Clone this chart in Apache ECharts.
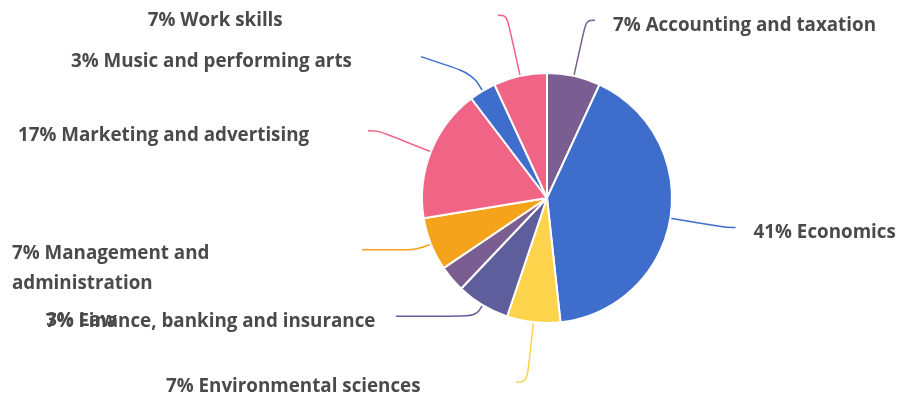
<!DOCTYPE html>
<html>
<head>
<meta charset="utf-8">
<script src="https://cdn.jsdelivr.net/npm/echarts@6/dist/echarts.min.js"></script>
<style>
  html, body { margin: 0; padding: 0; background: #ffffff; }
  #chart { width: 900px; height: 399px; }
</style>
</head>
<body>
<div id="chart"></div>
<script>
// Subject areas, in the order the slices run clockwise from twelve o'clock
const categories = [
  'Accounting and taxation',
  'Economics',
  'Environmental sciences',
  'Finance, banking and insurance',
  'Law',
  'Management and administration',
  'Marketing and advertising',
  'Music and performing arts',
  'Work skills'
];
// Number of courses in each subject area
const counts = [2, 12, 2, 2, 1, 2, 5, 1, 2];

// Slice colours
const sliceColors = ['#7b5e91', '#3e6dcc', '#fcd34b', '#5f5e9c', '#7b5e91', '#f4a31b', '#f06586', '#3e6dcc', '#f06586'];
// Leader line lengths per slice: radial part, then horizontal part
const leaderLength = [57, 58, 60, 13, 57, 15, 57, 40, 62];
const leaderLength2 = [9, 8, 11, 80, 12, 55, 10, 41, 9];
// Leader lines that are left out
const leaderHidden = ['Law'];
// Leaders whose elbow sits halfway along the radial part
const bentLeaders = ['Music and performing arts'];
// Labels that wrap onto two lines get extra top padding so the first line sits on the leader
const twoLineLabels = ['Management and administration'];

const chart = echarts.init(document.getElementById('chart'), null, { renderer: 'canvas' });

const seriesData = categories.map((name, i) => ({
  name: name,
  value: counts[i],
  itemStyle: { color: sliceColors[i] },
  label: { padding: twoLineLabels.includes(name) ? [38, 0, 0, 0] : [10, 0, 0, 0] },
  labelLine: {
    show: true,
    length: leaderLength[i],
    length2: leaderLength2[i],
    lineStyle: { opacity: leaderHidden.includes(name) ? 0 : 1 }
  }
}));

chart.setOption({
  animation: false,
  series: [{
    type: 'pie',
    center: [547, 198],
    radius: 125,
    startAngle: 90,
    clockwise: true,
    avoidLabelOverlap: false,
    data: seriesData,
    itemStyle: { borderColor: '#ffffff', borderWidth: 2 },
    emphasis: { disabled: true },
    label: {
      show: true,
      position: 'outer',
      width: 332,
      overflow: 'break',
      distanceToLabelLine: 18,
      formatter: p => '{t|' + Math.round(p.percent) + '% ' + p.name + '}',
      rich: {
        t: {
          align: 'left',
          fontFamily: '"Open Sans", "Noto Sans", sans-serif',
          fontWeight: 'bold',
          fontSize: 18.8,
          lineHeight: 30,
          color: '#4a4a4a'
        }
      }
    },
    labelLine: {
      show: true,
      smooth: 0.4,
      lineStyle: { width: 1.5 }
    },
    labelLayout: function (p) {
      const out = { hideOverlap: false };
      const pts = p.labelLinePoints;
      if (bentLeaders.includes(categories[p.dataIndex]) && pts && pts.length === 3) {
        out.labelLinePoints = [
          pts[0],
          [(pts[0][0] + pts[1][0]) / 2, (pts[0][1] + pts[1][1]) / 2],
          pts[2]
        ];
      }
      return out;
    }
  }]
});
</script>
</body>
</html>
